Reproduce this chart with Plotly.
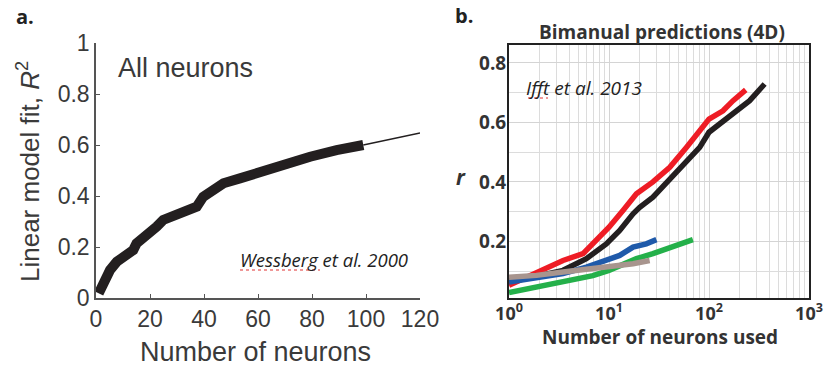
import plotly.graph_objects as go

# ---- Panel a data (Wessberg et al. 2000) ----
a_n = [1, 2.7, 5.2, 7.7, 11.4, 13.8, 15, 17.5, 20, 22.5, 24.9, 28.6, 33.6, 37.3, 39.7,
       43.5, 47.2, 53.3, 60.7, 69.4, 79.3, 89.1, 99]
a_r2 = [0.018, 0.058, 0.11, 0.142, 0.169, 0.188, 0.214, 0.234, 0.254, 0.28, 0.306, 0.319,
        0.339, 0.358, 0.397, 0.424, 0.45, 0.469, 0.495, 0.524, 0.554, 0.58, 0.6]
a_ext_n = [99, 120]
a_ext_r2 = [0.6, 0.647]

# ---- Panel b data (Ifft et al. 2013) ----
red_n = [1, 1.88, 3.47, 5.5, 7.5, 10, 13.8, 18.8, 27.5, 40.5, 59.4, 80.7, 100, 138, 174, 233]
red_r = [0.053, 0.097, 0.136, 0.159, 0.203, 0.248, 0.304, 0.36, 0.40, 0.449, 0.516, 0.572,
         0.611, 0.639, 0.673, 0.709]
black_n = [1, 2, 3.47, 5.94, 9.4, 12.8, 17.4, 20.3, 27.5, 37.5, 55, 80.7, 100, 128, 174, 255, 360]
black_r = [0.07, 0.085, 0.103, 0.142, 0.192, 0.237, 0.293, 0.315, 0.349, 0.399, 0.46, 0.516,
           0.567, 0.595, 0.628, 0.673, 0.729]
blue_n = [1, 1.88, 3.47, 5.94, 9.4, 12.8, 17.4, 23.6, 29.8]
blue_r = [0.064, 0.08, 0.092, 0.114, 0.136, 0.153, 0.181, 0.192, 0.206]
green_n = [1, 1.88, 3.47, 6.9, 10, 18.8, 27.5, 43.7, 69]
green_r = [0.028, 0.047, 0.066, 0.085, 0.103, 0.142, 0.159, 0.181, 0.206]
grey_n = [1, 1.88, 3.47, 5.94, 10, 17.4, 25.5]
grey_r = [0.08, 0.086, 0.097, 0.105, 0.114, 0.125, 0.136]

b_tickvals = [1, 10, 100, 1000]
b_ticktext = ["10<sup>0</sup>", "10<sup>1</sup>", "10<sup>2</sup>", "10<sup>3</sup>"]
b_ytickvals = [0.2, 0.4, 0.6, 0.8]

W, H = 832, 366
def px(x):
    return x / W
def py(y):
    return 1 - y / H

fig = go.Figure()

fig.add_trace(go.Scatter(x=a_n, y=a_r2, mode="lines", line=dict(color="#231f20", width=10),
                         xaxis="x", yaxis="y", showlegend=False))
fig.add_trace(go.Scatter(x=a_ext_n, y=a_ext_r2, mode="lines", line=dict(color="#231f20", width=1.5),
                         xaxis="x", yaxis="y", showlegend=False))

series = [
    (black_n, black_r, "#231f20"),
    (red_n, red_r, "#ee1c25"),
    (blue_n, blue_r, "#1f5aaa"),
    (green_n, green_r, "#24b04a"),
    (grey_n, grey_r, "#a8958e"),
]
for n, r, c in series:
    fig.add_trace(go.Scatter(x=n, y=r, mode="lines", line=dict(color=c, width=5.5),
                             xaxis="x2", yaxis="y2", showlegend=False))

lf = dict(family="Liberation Sans, Arial, sans-serif", color="#3a3a3a")
bf = dict(family="Open Sans, sans-serif", color="#333333")

fig.update_layout(
    width=W, height=H,
    margin=dict(l=0, r=0, t=0, b=0),
    paper_bgcolor="white", plot_bgcolor="white",
    xaxis=dict(domain=[px(96), px(420)], range=[0, 120], tickvals=[0, 20, 40, 60, 80, 100, 120],
               showgrid=False, zeroline=False, showline=True, linecolor="#555", linewidth=1.5,
               ticks="inside", ticklen=4, tickcolor="#555", tickfont=dict(size=23, **lf),
               anchor="y", automargin=False),
    yaxis=dict(domain=[py(298), py(43)], range=[0, 1], tickvals=[0, 0.2, 0.4, 0.6, 0.8, 1],
               ticktext=["0", "0.2", "0.4", "0.6", "0.8", "1"],
               showgrid=False, zeroline=False, showline=True, linecolor="#555", linewidth=1.5,
               ticks="inside", ticklen=4, tickcolor="#555", tickfont=dict(size=23, **lf),
               anchor="x", automargin=False),
    xaxis2=dict(domain=[px(509), px(809)], type="log", range=[0, 3], tickvals=b_tickvals,
                ticktext=b_ticktext, showgrid=True, gridcolor="#d4d4d4", gridwidth=1,
                minor=dict(dtick="D1", showgrid=True, gridcolor="#dcdcdc", gridwidth=1),
                zeroline=False, showline=True, mirror=True, linecolor="#222", linewidth=2,
                ticks="", ticklabelstandoff=-2, tickfont=dict(size=18, **bf, weight="bold"),
                anchor="y2", automargin=False),
    yaxis2=dict(domain=[py(298), py(45)], range=[0.01, 0.86], tickvals=b_ytickvals,
                ticktext=["0.2", "0.4", "0.6", "0.8"], showgrid=True, gridcolor="#d4d4d4",
                minor=dict(dtick=0.1, showgrid=True, gridcolor="#dcdcdc"),
                zeroline=False, showline=True, mirror=True, linecolor="#222", linewidth=2,
                ticks="", ticklabelstandoff=-3, tickfont=dict(size=19, **bf, weight="bold"),
                anchor="x2", automargin=False),
)

ann = [
    dict(x=px(25), y=py(16), text="<b>a.</b>", font=dict(size=20, family="Open Sans, sans-serif", color="#222")),
    dict(x=px(464), y=py(15), text="<b>b.</b>", font=dict(size=20, family="Open Sans, sans-serif", color="#222")),
    dict(x=px(185), y=py(68), text="All neurons", font=dict(size=27, **lf)),
    dict(x=px(255), y=py(352), text="Number of neurons", font=dict(size=27, **lf)),
    dict(x=px(28), y=py(172), text="Linear model fit, <i>R</i><sup>2</sup>", textangle=-90,
         font=dict(size=26, **lf)),
    dict(x=px(324), y=py(259), text="<i>Wessberg et al. 2000</i>",
         font=dict(size=18.5, family="Open Sans, sans-serif", color="#222")),
    dict(x=px(662), y=py(32), text="<b>Bimanual predictions (4D)</b>", font=dict(size=19, **bf)),
    dict(x=px(660), y=py(337), text="<b>Number of neurons used</b>", font=dict(size=19, **bf)),
    dict(x=px(461), y=py(177), text="<b><i>r</i></b>", font=dict(size=21, **bf)),
    dict(x=px(584), y=py(88), text="<i>Ifft et al. 2013</i>",
         font=dict(size=19, family="Open Sans, sans-serif", color="#222")),
]
for a in ann:
    a.update(xref="paper", yref="paper", showarrow=False, xanchor="center", yanchor="middle")
    fig.add_annotation(**a)

# red spell-check underlines (decorative)
fig.add_shape(type="line", xref="paper", yref="paper", x0=px(240), x1=px(320), y0=py(270), y1=py(270),
              line=dict(color="#e03030", width=1, dash="dot"))
fig.add_shape(type="line", xref="paper", yref="paper", x0=px(528), x1=px(548), y0=py(98), y1=py(98),
              line=dict(color="#e03030", width=1, dash="dot"))

fig.write_html("out.html", config={"displayModeBar": False},
               post_script="document.body.style.margin='0';")
